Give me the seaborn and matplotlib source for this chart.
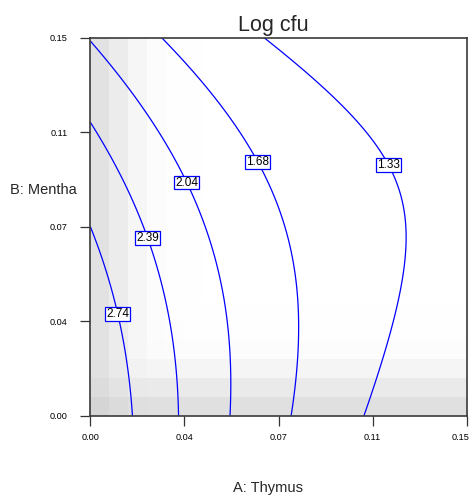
import numpy as np
import matplotlib
matplotlib.use("Agg")
import matplotlib.pyplot as plt
import matplotlib.transforms as mtransforms
import seaborn as sns

# ---- data ----
# quadratic response-surface coefficients for Log cfu (A: Thymus, B: Mentha)
coef_names = ["b0", "A", "B", "AB", "A2", "B2"]
coef_values = [3.09, -21.7, -2.22, 54.3, 51.0, -32.6]
contour_levels = [1.33, 1.68, 2.04, 2.39, 2.74]
label_points_A = [0.1206, 0.0668, 0.0389, 0.0230, 0.0106]
label_points_B = [0.1006, 0.1006, 0.0927, 0.0705, 0.0403]
tick_values = [0.0, 0.0375, 0.075, 0.1125, 0.15]
tick_labels = ["0.00", "0.04", "0.07", "0.11", "0.15"]
# background shading darkness (0-255) by column (A) and row (B), 20 cells each
col_dark = [29, 19, 9, 3, 1.5, 1, 0.5, 0, 0, 0, 0, 0, 0, 0, 0, 0, 0, 0, 0, 0]
row_dark = [31, 21, 10, 3, 1.5, 1, 0.5, 0, 0, 0, 0, 0, 0, 0, 0, 0, 0, 0, 0, 0]

sns.set_style("white")
plt.rcParams["font.family"] = ["Liberation Sans", "DejaVu Sans"]

W, H = 473, 495
fig = plt.figure(figsize=(W / 100, H / 100), dpi=100)
ax = fig.add_axes([90.3 / W, 1 - 415.7 / H, 376.4 / W, 378.2 / H])

# background grid
edges = np.linspace(0, 0.15, len(col_dark) + 1)
cd = np.array(col_dark)[None, :]
rd = np.array(row_dark)[:, None]
gray = (255 - np.hypot(cd, rd)) / 255.0
ax.pcolormesh(edges, edges, gray, cmap="gray", vmin=0, vmax=1,
              shading="flat", zorder=0)

# response surface
a = np.linspace(0, 0.15, 301)
b = np.linspace(0, 0.15, 301)
AA, BB = np.meshgrid(a, b)
c = dict(zip(coef_names, coef_values))
Z = (c["b0"] + c["A"] * AA + c["B"] * BB + c["AB"] * AA * BB
     + c["A2"] * AA ** 2 + c["B2"] * BB ** 2)

cs = ax.contour(AA, BB, Z, levels=contour_levels, colors="#0000ff",
                linewidths=0.9, zorder=2)
labels = ax.clabel(cs, fmt="%.2f", inline=False, fontsize=8.5,
                   colors="black",
                   manual=list(zip(label_points_A, label_points_B)))
for t in labels:
    t.set_rotation(0)
    t.set_bbox(dict(boxstyle="square,pad=0.08", facecolor="white",
                    edgecolor="#0000ff", linewidth=0.9))
    t.set_zorder(5)

ax.set_xlim(0, 0.15)
ax.set_ylim(0, 0.15)
ax.set_xticks(tick_values)
ax.set_xticklabels(tick_labels)
ax.set_yticks(tick_values)
ax.set_yticklabels(tick_labels)
ax.tick_params(axis="both", direction="out", length=7.2, width=0.9,
               color="#333333", labelsize=6.6, labelcolor="black",
               bottom=True, left=True)
ax.tick_params(axis="y", pad=9)
ax.tick_params(axis="x", pad=5)
last = ax.get_xticklabels()[-1]
last.set_horizontalalignment("right")
last.set_transform(last.get_transform() +
                   mtransforms.ScaledTranslation(3 / 100, 0, fig.dpi_scale_trans))
for s in ax.spines.values():
    s.set_visible(True)
    s.set_color("#3a3a3a")
    s.set_linewidth(1.2)
ax.grid(False)

fig.text(273 / W, 1 - 31 / H, "Log cfu", ha="center", va="baseline",
         fontsize=15.5)
fig.text(10 / W, 1 - 190 / H, "B: Mentha", ha="left", va="center",
         fontsize=10.5)
fig.text(268 / W, 1 - 492 / H, "A: Thymus", ha="center", va="baseline",
         fontsize=10.5)

fig.savefig("out.png", dpi=100, facecolor="white")
